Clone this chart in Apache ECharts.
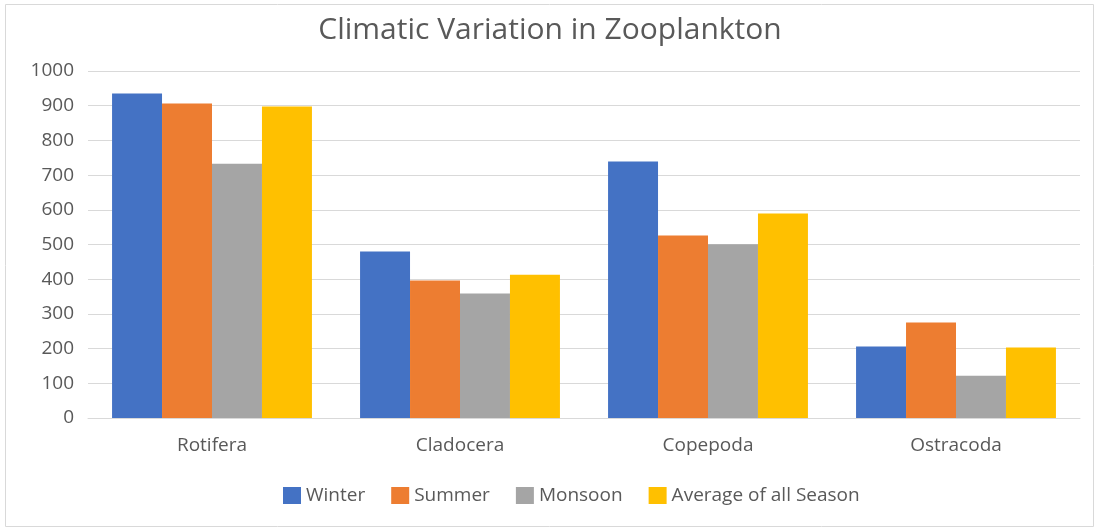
<!DOCTYPE html>
<html>
<head>
<meta charset="utf-8">
<script src="https://cdn.jsdelivr.net/npm/echarts@6/dist/echarts.min.js"></script>
<style>
	html, body { margin: 0; padding: 0; background: #fff; }
	#chart { width: 1100px; height: 529px; }
</style>
</head>
<body>
<div id="chart"></div>
<script>
	// 数据
	var categories = ['Rotifera', 'Cladocera', 'Copepoda', 'Ostracoda'];
	var seriesNames = ['Winter', 'Summer', 'Monsoon', 'Average of all Season'];
	var winter = [935, 480, 739, 206];
	var summer = [906, 396, 526, 275];
	var monsoon = [733, 359, 501, 122];
	var average = [898, 413, 589, 203];
	var colors = ['#4472c4', '#ed7d31', '#a5a5a5', '#ffc000'];

	var font = '"Open Sans", "Noto Sans", sans-serif';
	var values = [winter, summer, monsoon, average];

	var myChart = echarts.init(document.getElementById('chart'));
	var option = {
		animation: false,
		color: colors,
		title: {
			text: 'Climatic Variation in Zooplankton',
			left: 'center',
			top: 10,
			textStyle: { fontFamily: font, fontSize: 30, fontWeight: 'normal', color: '#595959' }
		},
		legend: {
			bottom: 19,
			left: 278,
			itemWidth: 18,
			itemHeight: 17,
			itemGap: 26,
			icon: 'rect',
			data: seriesNames,
			textStyle: { fontFamily: font, fontSize: 19, color: '#595959' }
		},
		grid: { left: 88, right: 20, top: 71, bottom: 111 },
		xAxis: {
			type: 'category',
			data: categories,
			axisTick: { show: false },
			axisLine: { lineStyle: { color: '#d9d9d9', width: 1 } },
			axisLabel: { fontFamily: font, fontSize: 19, color: '#595959', margin: 18 }
		},
		yAxis: {
			type: 'value',
			min: 0,
			max: 1000,
			interval: 100,
			axisLine: { show: false },
			axisTick: { show: false },
			splitLine: { lineStyle: { color: '#d9d9d9', width: 1 } },
			axisLabel: {
				fontFamily: font, fontSize: 19, color: '#595959', margin: 14,
				formatter: function (v) { return String(v); }
			}
		},
		graphic: [{
			type: 'rect',
			shape: { x: 5.5, y: 4.5, width: 1088, height: 522 },
			style: { fill: null, stroke: '#d9d9d9', lineWidth: 1 },
			silent: true
		}],
		series: seriesNames.map(function (name, i) {
			return {
				name: name,
				type: 'bar',
				data: values[i],
				barGap: '0%',
				barCategoryGap: '19.4%'
			};
		})
	};
	myChart.setOption(option);
</script>
</body>
</html>
